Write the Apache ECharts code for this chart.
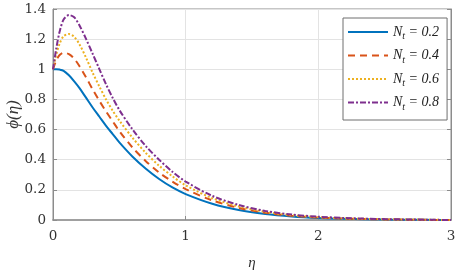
<!DOCTYPE html>
<html>
<head>
<meta charset="UTF-8">
<title>phi eta</title>
<script src="https://cdn.jsdelivr.net/npm/echarts@6/dist/echarts.min.js"></script>
<style>
  html, body { margin: 0; padding: 0; background: #fff; }
  #chart { width: 457px; height: 275px; }
</style>
</head>
<body>
<div id="chart"></div>
<script>
// eta positions
var eta = [0, 0.025, 0.05, 0.08, 0.12, 0.16, 0.2, 0.25, 0.3, 0.35, 0.4, 0.45, 0.5, 0.6, 0.7, 0.8, 0.9, 1.0, 1.2, 1.4, 1.6, 1.8, 2.0, 2.2, 2.5, 2.8, 3.0];
var nt02 = [1.0, 1.0, 0.998, 0.99, 0.96, 0.92, 0.875, 0.81, 0.745, 0.685, 0.625, 0.57, 0.515, 0.42, 0.34, 0.272, 0.216, 0.172, 0.108, 0.066, 0.04, 0.024, 0.014, 0.008, 0.003, 0.001, 0];
var nt04 = [1.0, 1.06, 1.095, 1.11, 1.1, 1.07, 1.02, 0.945, 0.865, 0.79, 0.72, 0.655, 0.59, 0.48, 0.39, 0.315, 0.255, 0.205, 0.13, 0.08, 0.048, 0.028, 0.016, 0.009, 0.004, 0.001, 0];
var nt06 = [1.0, 1.1, 1.17, 1.22, 1.234, 1.215, 1.165, 1.075, 0.975, 0.885, 0.8, 0.725, 0.66, 0.545, 0.445, 0.36, 0.29, 0.23, 0.145, 0.09, 0.054, 0.032, 0.019, 0.011, 0.005, 0.002, 0];
var nt08 = [1.0, 1.14, 1.25, 1.33, 1.36, 1.345, 1.29, 1.2, 1.1, 1.0, 0.9, 0.81, 0.73, 0.6, 0.49, 0.4, 0.32, 0.255, 0.16, 0.1, 0.06, 0.036, 0.022, 0.013, 0.006, 0.002, 0];
var ntLabels = ['0.2', '0.4', '0.6', '0.8'];

var serif = '"Liberation Serif", "DejaVu Serif", serif';
var tickFont = '"DejaVu Serif", serif';

function pairs(ys) {
  var out = [];
  for (var i = 0; i < eta.length; i++) out.push([eta[i], ys[i]]);
  return out;
}

function mkSeries(idx, ys, color, type) {
  return {
    name: 'Nt' + idx,
    type: 'line',
    data: pairs(ys),
    smooth: 0.3,
    symbol: 'none',
    lineStyle: { color: color, width: 2, type: type },
    itemStyle: { color: color }
  };
}

var myChart = echarts.init(document.getElementById('chart'));
var option = {
  animation: false,
  grid: {
    left: 53, right: 6, top: 9, bottom: 55,
    outerBoundsMode: 'none',
    containLabel: false,
    show: true, borderColor: '#8c8c8c', borderWidth: 1
  },
  legend: {
    orient: 'vertical',
    left: 343, top: 18,
    padding: [7, 8, 8, 4],
    itemGap: 7,
    itemWidth: 40,
    itemHeight: 14,
    backgroundColor: '#fff',
    borderColor: '#6e6e6e',
    borderWidth: 1,
    itemStyle: { opacity: 0 },
    data: ['Nt0', 'Nt1', 'Nt2', 'Nt3'],
    formatter: function(name) {
      var k = parseInt(name.slice(2));
      return '{n|N}{s|t}{n| = ' + ntLabels[k] + '}';
    },
    textStyle: {
      rich: {
        n: { fontFamily: serif, fontStyle: 'italic', fontSize: 14, color: '#222' },
        s: { fontFamily: serif, fontStyle: 'italic', fontSize: 10, color: '#222', padding: [9, 0, 0, 0] }
      }
    }
  },
  xAxis: [{
    type: 'value', min: 0, max: 3, interval: 1,
    name: 'η', nameLocation: 'middle', nameGap: 36, nameMoveOverlap: false,
    nameTextStyle: { fontFamily: serif, fontStyle: 'italic', fontSize: 15, color: '#333' },
    axisLine: { show: true, lineStyle: { color: '#a0a0a0', width: 2 } },
    axisTick: { show: true, inside: true, length: 4, lineStyle: { color: '#8c8c8c' } },
    axisLabel: { fontFamily: tickFont, fontSize: 13.5, color: '#333', margin: 9 },
    splitLine: { show: true, lineStyle: { color: '#e3e3e3' } }
  }],
  yAxis: [{
    type: 'value', min: 0, max: 1.4, interval: 0.2,
    name: 'ϕ(η)', nameLocation: 'middle', nameGap: 31, nameRotate: 90, nameMoveOverlap: false,
    nameTextStyle: { fontFamily: serif, fontStyle: 'italic', fontSize: 17, color: '#333' },
    axisLine: { show: true, lineStyle: { color: '#8c8c8c' } },
    axisTick: { show: true, inside: true, length: 4, lineStyle: { color: '#8c8c8c' } },
    axisLabel: {
      fontFamily: tickFont, fontSize: 13.5, color: '#333', margin: 7,
      formatter: function(v) { return String(parseFloat(v.toFixed(1))); }
    },
    splitLine: { show: true, lineStyle: { color: '#e3e3e3' } }
  }, {
    type: 'value', min: 0, max: 1.4, interval: 0.2, position: 'right',
    axisLine: { show: true, lineStyle: { color: '#8c8c8c' } },
    axisTick: { show: true, inside: true, length: 4, lineStyle: { color: '#8c8c8c' } },
    axisLabel: { show: false },
    splitLine: { show: false }
  }],
  series: [
    mkSeries(0, nt02, '#0072BD', 'solid'),
    mkSeries(1, nt04, '#D95319', [7, 5]),
    mkSeries(2, nt06, '#EDB120', [2, 2]),
    mkSeries(3, nt08, '#7E2F8E', [6, 2, 2, 2])
  ]
};
myChart.setOption(option);
</script>
</body>
</html>
